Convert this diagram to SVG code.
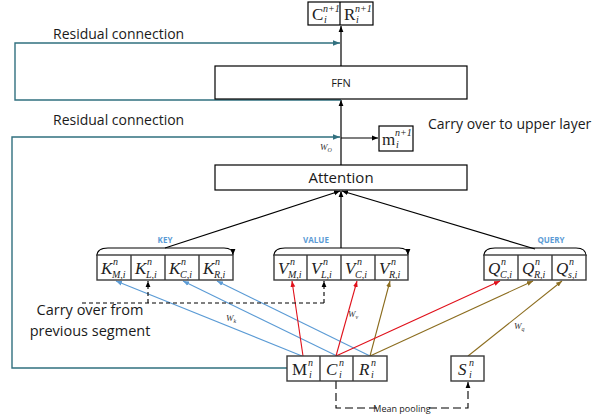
<svg xmlns="http://www.w3.org/2000/svg" width="612" height="418" viewBox="0 0 612 418">
<defs>
<marker id="ab" viewBox="0 0 10 10" refX="10" refY="5" markerWidth="6" markerHeight="6" orient="auto" markerUnits="userSpaceOnUse"><path d="M0,1 L10,5 L0,9 z" fill="#000"/></marker>
<marker id="at" viewBox="0 0 10 10" refX="10" refY="5" markerWidth="7" markerHeight="7" orient="auto" markerUnits="userSpaceOnUse"><path d="M0,1 L10,5 L0,9 z" fill="#31707f"/></marker>
<marker id="abl" viewBox="0 0 10 10" refX="10" refY="5" markerWidth="6" markerHeight="6" orient="auto" markerUnits="userSpaceOnUse"><path d="M0,1 L10,5 L0,9 z" fill="#5b9bd5"/></marker>
<marker id="ar" viewBox="0 0 10 10" refX="10" refY="5" markerWidth="6" markerHeight="6" orient="auto" markerUnits="userSpaceOnUse"><path d="M0,1 L10,5 L0,9 z" fill="#e0101a"/></marker>
<marker id="abr" viewBox="0 0 10 10" refX="10" refY="5" markerWidth="6" markerHeight="6" orient="auto" markerUnits="userSpaceOnUse"><path d="M0,1 L10,5 L0,9 z" fill="#8c6d1f"/></marker>
</defs>
<style>
.box{fill:#fff;stroke:#000;stroke-width:1.2}
.cell{fill:#fff;stroke:#3a3a3a;stroke-width:1.4}
.lbl{font-family:"Open Sans","Liberation Sans",sans-serif;fill:#1a1a1a}
.tag{font-family:"Open Sans","Liberation Sans",sans-serif;font-weight:bold;font-size:8px;fill:#5b9bd5}
.mi{font-family:"Liberation Serif",serif;font-style:italic;fill:#222;font-size:17px}
.mr{font-family:"Liberation Serif",serif;fill:#222;font-size:17px}
.s{font-family:"Liberation Serif",serif;font-style:italic;fill:#222;font-size:10px}
.sm{font-family:"Liberation Serif",serif;font-style:italic;fill:#333;font-size:9px}
.blk{stroke:#000;stroke-width:1.2;fill:none}
.teal{stroke:#31707f;stroke-width:1.4;fill:none}
.blue{stroke:#5b9bd5;stroke-width:1.1;fill:none}
.red{stroke:#e0101a;stroke-width:1.1;fill:none}
.brown{stroke:#8c6d1f;stroke-width:1.1;fill:none}
.dash{stroke:#000;stroke-width:1.1;fill:none;stroke-dasharray:4 3}
.ldash{stroke:#000;stroke-width:1.1;fill:none;stroke-dasharray:8 4}
</style>

<g id="connectors">
  <line class="blk" x1="341" y1="165" x2="341" y2="100" marker-end="url(#ab)"/>
  <line class="blk" x1="341" y1="66" x2="341" y2="26" marker-end="url(#ab)"/>
  <line class="blk" x1="341" y1="138" x2="378" y2="138" marker-end="url(#ab)"/>
  <polyline class="teal" points="341,100 15,100 15,43 340,43" marker-end="url(#at)"/>
  <polyline class="teal" points="287,368 12,368 12,137 340,137" marker-end="url(#at)"/>
  <line class="blk" x1="165" y1="248" x2="340" y2="191" marker-end="url(#ab)"/>
  <line class="blk" x1="341" y1="248" x2="341" y2="191" marker-end="url(#ab)"/>
  <line class="blk" x1="535" y1="249" x2="342" y2="191" marker-end="url(#ab)"/>
  <path class="blk" d="M97,256 Q97,248 108,248 L224,248 Q233,248 233,255" marker-end="url(#ab)"/>
  <path class="blk" d="M274,256 Q274,248 285,248 L399,248 Q408,248 408,255" marker-end="url(#ab)"/>
  <path class="blk" d="M484,256 Q484,248 495,248 L576,248 Q586,248 586,256"/>
  <line class="blue" x1="302" y1="356" x2="116" y2="281" marker-end="url(#abl)"/>
  <line class="blue" x1="337" y1="356" x2="183" y2="281" marker-end="url(#abl)"/>
  <line class="blue" x1="370" y1="356" x2="217" y2="281" marker-end="url(#abl)"/>
  <line class="red" x1="303" y1="356" x2="292" y2="281" marker-end="url(#ar)"/>
  <line class="red" x1="336" y1="356" x2="357" y2="281" marker-end="url(#ar)"/>
  <line class="brown" x1="370" y1="356" x2="390" y2="281" marker-end="url(#abr)"/>
  <line class="red" x1="336" y1="356" x2="500" y2="281" marker-end="url(#ar)"/>
  <line class="brown" x1="370" y1="356" x2="533" y2="281" marker-end="url(#abr)"/>
  <line class="brown" x1="468" y1="356" x2="562" y2="281" marker-end="url(#abr)"/>
  <polyline class="dash" points="82,303 324,303"/>
  <line class="dash" x1="148" y1="303" x2="148" y2="281" marker-end="url(#ab)"/>
  <line class="dash" x1="324" y1="303" x2="324" y2="281" marker-end="url(#ab)"/>
  <polyline class="ldash" points="336,381 336,408 468,408 468,382" marker-end="url(#ab)"/>
  <rect x="377" y="403" width="51" height="12" fill="#fff"/>
  <text class="lbl" x="402" y="412" font-size="9" text-anchor="middle" fill="#333">Mean pooling</text>
  <text class="sm" x="320" y="150">W<tspan font-size="6" dy="2">O</tspan></text>
  <text class="sm" x="226" y="321">W<tspan font-size="6" dy="2">k</tspan></text>
  <text class="sm" x="348" y="317">W<tspan font-size="6" dy="2">v</tspan></text>
  <text class="sm" x="514" y="329">W<tspan font-size="6" dy="2">q</tspan></text>
</g>

<g id="labels">
  <text class="lbl" x="53" y="39" font-size="14">Residual connection</text>
  <text class="lbl" x="53" y="125" font-size="14">Residual connection</text>
  <text class="lbl" x="428" y="129" font-size="14">Carry over to upper layer</text>
  <text class="lbl" x="90" y="315" font-size="14.5" text-anchor="middle">Carry over from</text>
  <text class="lbl" x="90" y="336" font-size="14.5" text-anchor="middle">previous segment</text>
</g>

<g id="output">
  <rect class="box" x="308" y="2" width="65" height="23"/>
  <line class="blk" x1="340" y1="2" x2="340" y2="25"/>
  <text class="mr" x="312" y="20" font-size="16">C</text>
  <text class="s" x="323" y="12" font-size="9">n+1</text>
  <text class="s" x="324" y="23" font-size="9">i</text>
  <text class="mr" x="344" y="20" font-size="16">R</text>
  <text class="s" x="355" y="12" font-size="9">n+1</text>
  <text class="s" x="356" y="23" font-size="9">i</text>
</g>

<g id="ffn">
  <rect class="box" x="215" y="66" width="252" height="33"/>
  <text class="lbl" x="341" y="87" font-size="11" text-anchor="middle">FFN</text>
</g>

<g id="memory-out">
  <rect class="box" x="379" y="126" width="34" height="25"/>
  <text class="mr" x="382" y="145" font-size="16">m</text>
  <text class="s" x="395" y="136" font-size="9">n+1</text>
  <text class="s" x="396" y="148" font-size="9">i</text>
</g>

<g id="attention">
  <rect class="box" x="215" y="165" width="252" height="25"/>
  <text class="lbl" x="341" y="183" font-size="15" text-anchor="middle">Attention</text>
</g>

<g id="key">
  <text class="tag" x="165" y="243" text-anchor="middle">KEY</text>
  <rect class="cell" x="97" y="255" width="136" height="25"/>
  <line class="cell" x1="131" y1="255" x2="131" y2="280"/>
  <line class="cell" x1="165" y1="255" x2="165" y2="280"/>
  <line class="cell" x1="199" y1="255" x2="199" y2="280"/>
  <text class="mi" x="101" y="274">K</text><text class="s" x="113" y="265">n</text><text class="s" x="112" y="278">M,i</text>
  <text class="mi" x="135" y="274">K</text><text class="s" x="147" y="265">n</text><text class="s" x="146" y="278">L,i</text>
  <text class="mi" x="169" y="274">K</text><text class="s" x="181" y="265">n</text><text class="s" x="180" y="278">C,i</text>
  <text class="mi" x="203" y="274">K</text><text class="s" x="215" y="265">n</text><text class="s" x="214" y="278">R,i</text>
</g>

<g id="value">
  <text class="tag" x="316" y="243" text-anchor="middle">VALUE</text>
  <rect class="cell" x="274" y="255" width="134" height="25"/>
  <line class="cell" x1="307" y1="255" x2="307" y2="280"/>
  <line class="cell" x1="341" y1="255" x2="341" y2="280"/>
  <line class="cell" x1="375" y1="255" x2="375" y2="280"/>
  <text class="mi" x="278" y="274">V</text><text class="s" x="290" y="265">n</text><text class="s" x="288" y="278">M,i</text>
  <text class="mi" x="311" y="274">V</text><text class="s" x="323" y="265">n</text><text class="s" x="321" y="278">L,i</text>
  <text class="mi" x="345" y="274">V</text><text class="s" x="357" y="265">n</text><text class="s" x="355" y="278">C,i</text>
  <text class="mi" x="379" y="274">V</text><text class="s" x="391" y="265">n</text><text class="s" x="389" y="278">R,i</text>
</g>

<g id="query">
  <text class="tag" x="551" y="243" text-anchor="middle">QUERY</text>
  <rect class="cell" x="484" y="255" width="102" height="25"/>
  <line class="cell" x1="518" y1="255" x2="518" y2="280"/>
  <line class="cell" x1="552" y1="255" x2="552" y2="280"/>
  <text class="mi" x="488" y="274">Q</text><text class="s" x="501" y="265">n</text><text class="s" x="500" y="278">C,i</text>
  <text class="mi" x="522" y="274">Q</text><text class="s" x="535" y="265">n</text><text class="s" x="534" y="278">R,i</text>
  <text class="mi" x="556" y="274">Q</text><text class="s" x="569" y="265">n</text><text class="s" x="568" y="278">s,i</text>
</g>

<g id="inputs">
  <rect class="cell" x="287" y="356" width="100" height="25"/>
  <line class="cell" x1="320" y1="356" x2="320" y2="381"/>
  <line class="cell" x1="353" y1="356" x2="353" y2="381"/>
  <text class="mr" x="292" y="375">M</text><text class="s" x="308" y="366">n</text><text class="s" x="309" y="378">i</text>
  <text class="mi" x="326" y="375">C</text><text class="s" x="339" y="366">n</text><text class="s" x="339" y="378">i</text>
  <text class="mi" x="359" y="375">R</text><text class="s" x="371" y="366">n</text><text class="s" x="371" y="378">i</text>
</g>

<g id="summary">
  <rect class="cell" x="451" y="356" width="33" height="25"/>
  <text class="mi" x="458" y="375">S</text><text class="s" x="469" y="366">n</text><text class="s" x="469" y="378">i</text>
</g>
</svg>
